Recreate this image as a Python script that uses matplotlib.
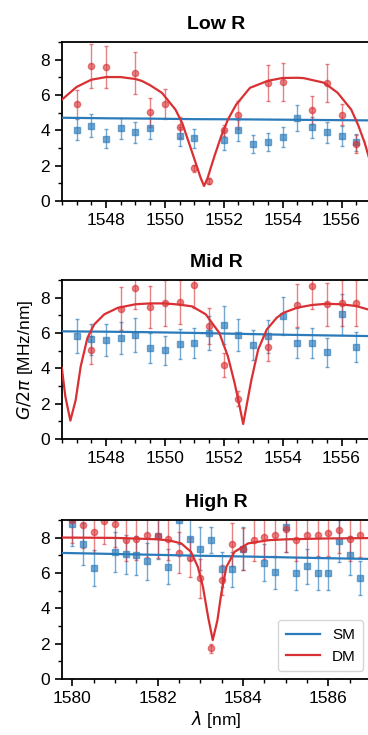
import numpy as np
import matplotlib
matplotlib.use("Agg")
import matplotlib.pyplot as plt
from matplotlib.ticker import MultipleLocator

plt.rcParams["font.family"] = ["Liberation Sans", "DejaVu Sans"]
plt.rcParams["mathtext.fontset"] = "dejavusans"

BLUE = "#2b7bba"
RED = "#d93033"

# ---------------- Low R ----------------
low_x = [1547, 1547.5, 1548, 1548.5, 1549, 1549.5, 1550.5, 1551, 1552, 1552.5,
         1553, 1553.5, 1554, 1554.5, 1555, 1555.5, 1556, 1556.5]
low_sm = [4.03, 4.25, 3.53, 4.12, 3.89, 4.12, 3.65, 3.55, 3.46, 3.99,
          3.21, 3.33, 3.63, 4.69, 4.18, 3.88, 3.67, 3.31]
low_sm_err = [0.6, 0.65, 0.55, 0.6, 0.6, 0.6, 0.55, 0.55, 0.55, 0.6,
              0.5, 0.5, 0.55, 0.75, 0.6, 0.6, 0.55, 0.5]
low_dm_x = [1547, 1547.5, 1548, 1549, 1549.5, 1550, 1550.5, 1551, 1551.5, 1552,
            1552.5, 1553.5, 1554, 1555, 1555.5, 1556, 1556.5]
low_dm = [5.5, 7.66, 7.58, 7.24, 5.01, 5.48, 4.18, 1.85, 1.13, 3.99,
          4.86, 6.67, 6.73, 5.14, 6.69, 4.88, 3.23]
low_dm_err = [0.8, 1.24, 1.2, 1.17, 0.8, 0.85, 0.6, 0.2, 0.15, 0.3,
              0.8, 1.04, 1.07, 0.8, 1.08, 0.6, 0.5]
low_fit_x = [1546.5, 1547, 1547.5, 1548, 1548.5, 1549, 1549.21, 1549.5, 1549.9, 1550.36,
             1550.59, 1550.82, 1551.05, 1551.22, 1551.33, 1551.45, 1551.68, 1551.91, 1552.14, 1552.42,
             1552.89, 1553.5, 1554, 1554.5, 1554.72, 1555.41, 1555.87, 1556.33, 1556.56, 1556.79,
             1557.02]
low_fit = [5.73, 6.45, 6.86, 7.01, 7.01, 6.9, 6.8, 6.55, 6.12, 5.17,
           4.41, 3.28, 2.14, 1.29, 0.85, 1.29, 2.52, 3.65, 4.6, 5.45,
           6.4, 6.8, 6.96, 6.97, 6.95, 6.69, 6.12, 5.17, 4.32, 3.28,
           1.95]
low_sm_fit_x = [1546.5, 1548, 1549.5, 1551, 1552.5, 1554, 1555.5, 1557]
low_sm_fit = [4.71, 4.68, 4.66, 4.63, 4.62, 4.6, 4.58, 4.56]

# ---------------- Mid R ----------------
mid_x = [1547, 1547.5, 1548, 1548.5, 1549, 1549.5, 1550, 1550.5, 1551, 1551.5,
         1552, 1552.5, 1553, 1553.5, 1554, 1554.5, 1555, 1555.5, 1556, 1556.5]
mid_sm = [5.82, 5.63, 5.6, 5.73, 5.88, 5.14, 5.01, 5.39, 5.41, 6.01,
          6.45, 5.86, 5.31, 5.8, 6.96, 5.43, 5.41, 4.9, 7.05, 5.2]
mid_sm_err = [0.95, 0.9, 0.9, 0.9, 0.95, 0.85, 0.8, 0.85, 0.85, 0.95,
              1.06, 0.9, 0.85, 0.95, 1.1, 0.85, 0.85, 0.8, 1.15, 0.85]
mid_dm_x = [1547.5, 1548.5, 1549, 1549.5, 1550, 1550.5, 1551, 1551.5, 1552, 1552.5,
            1553.5, 1554.5, 1555, 1555.5, 1556, 1556.5]
mid_dm = [5.03, 7.37, 8.53, 7.47, 7.71, 7.77, 8.7, 6.39, 4.18, 2.29,
          5.22, 7.56, 8.66, 7.62, 7.69, 7.69]
mid_dm_err = [0.8, 1.2, 1.2, 1.2, 1.3, 1.25, 1.3, 1.0, 0.7, 0.4,
              0.8, 1.2, 1.3, 1.2, 1.3, 1.3]
mid_fit_x = [1546.5, 1546.62, 1546.79, 1546.97, 1547.14, 1547.37, 1547.6, 1547.94, 1548.4, 1549,
             1549.5, 1550, 1550.5, 1550.93, 1551.39, 1551.85, 1552.14, 1552.37, 1552.54, 1552.66,
             1552.77, 1552.94, 1553.17, 1553.46, 1553.8, 1554.03, 1554.5, 1555, 1555.5, 1556,
             1556.5, 1557]
mid_fit = [4.03, 2.4, 1.04, 2.2, 4.1, 5.72, 6.48, 7.05, 7.42, 7.62,
           7.67, 7.67, 7.6, 7.5, 7.05, 6.0, 4.68, 3.16, 1.84, 0.85,
           1.84, 3.35, 5.06, 6.19, 6.86, 7.14, 7.43, 7.58, 7.65, 7.62,
           7.52, 7.28]
mid_sm_fit_x = [1546.5, 1548, 1549.5, 1551, 1552.5, 1554, 1555.5, 1557]
mid_sm_fit = [6.09, 6.07, 6.04, 6.0, 5.95, 5.9, 5.86, 5.82]

# ---------------- High R ----------------
high_x = [1580, 1580.25, 1580.5, 1581, 1581.25, 1581.5, 1581.75, 1582, 1582.25, 1582.5,
          1582.75, 1583, 1583.25, 1583.5, 1583.75, 1584, 1584.5, 1584.75, 1585, 1585.25,
          1585.5, 1585.75, 1586, 1586.25, 1586.5, 1586.75]
high_sm = [8.74, 7.65, 6.27, 7.19, 7.06, 7.0, 6.65, 8.1, 6.35, 9.02,
           7.91, 7.38, 7.85, 6.2, 6.2, 7.38, 6.57, 6.03, 8.61, 5.97,
           6.38, 6.01, 5.97, 7.8, 7.0, 5.72]
high_sm_err = [1.2, 1.2, 1.0, 1.15, 1.1, 1.1, 1.05, 1.3, 1.0, 1.4,
               1.2, 1.2, 0.75, 1.0, 1.0, 1.2, 1.05, 0.95, 1.4, 0.95,
               1.0, 0.95, 0.95, 1.2, 1.1, 0.95]
high_dm_x = [1580, 1580.25, 1580.5, 1580.75, 1581, 1581.25, 1581.5, 1581.75, 1582, 1582.25,
             1582.5, 1582.75, 1583, 1583.25, 1583.5, 1583.75, 1584, 1584.25, 1584.5, 1584.75,
             1585, 1585.25, 1585.5, 1585.75, 1586, 1586.25, 1586.5, 1586.75]
high_dm = [8.98, 8.7, 8.32, 8.93, 8.79, 7.85, 7.93, 8.17, 8.08, 7.93,
           7.14, 6.87, 5.69, 1.73, 5.59, 7.61, 7.35, 7.85, 8.04, 8.17,
           8.47, 7.85, 8.17, 8.13, 8.23, 8.42, 7.89, 8.17]
high_dm_err = [1.3, 1.3, 1.2, 1.3, 1.3, 1.2, 1.2, 1.25, 1.25, 1.2,
               1.15, 1.1, 1.1, 0.25, 0.85, 1.2, 1.2, 1.2, 1.25, 1.25,
               1.3, 1.2, 1.25, 1.25, 1.25, 1.3, 1.2, 1.25]
high_fit_x = [1579.75, 1581, 1582, 1582.3, 1582.55, 1582.78, 1582.94, 1583.06, 1583.18, 1583.29,
              1583.4, 1583.49, 1583.61, 1583.8, 1584.12, 1584.6, 1585, 1586, 1587]
high_fit = [8.0, 7.98, 7.9, 7.82, 7.67, 7.19, 6.34, 5.21, 3.52, 2.2,
            3.33, 4.84, 6.34, 7.19, 7.67, 7.85, 7.9, 7.95, 7.97]
high_sm_fit_x = [1579.75, 1581, 1582, 1583, 1584, 1585, 1586, 1587]
high_sm_fit = [7.13, 7.07, 7.02, 6.97, 6.93, 6.88, 6.83, 6.79]

panels = [
    ("Low R", (1546.5, 1557), [1548, 1550, 1552, 1554, 1556],
     low_x, low_sm, low_sm_err, low_dm_x, low_dm, low_dm_err,
     low_fit_x, low_fit, low_sm_fit_x, low_sm_fit),
    ("Mid R", (1546.5, 1557), [1548, 1550, 1552, 1554, 1556],
     mid_x, mid_sm, mid_sm_err, mid_dm_x, mid_dm, mid_dm_err,
     mid_fit_x, mid_fit, mid_sm_fit_x, mid_sm_fit),
    ("High R", (1579.75, 1587), [1580, 1582, 1584, 1586],
     high_x, high_sm, high_sm_err, high_dm_x, high_dm, high_dm_err,
     high_fit_x, high_fit, high_sm_fit_x, high_sm_fit),
]

fig = plt.figure(figsize=(3.68, 7.35), dpi=100)
bottoms = [0.7265, 0.4027, 0.0762]
axes = [fig.add_axes([0.168, b, 0.84, 0.2165]) for b in bottoms]

for ax, p in zip(axes, panels):
    (title, xlim, xt, sx, sy, se, dx, dy, de, fx, fy, sfx, sfy) = p
    ax.errorbar(sx, sy, yerr=se, fmt="s", color=BLUE, ms=4.2, alpha=0.65,
                elinewidth=1.0, capsize=1.5, capthick=1.0, zorder=2)
    ax.errorbar(dx, dy, yerr=de, fmt="o", color=RED, ms=4.5, alpha=0.6,
                elinewidth=1.0, capsize=1.5, capthick=1.0, zorder=2)
    ax.plot(sfx, sfy, color=BLUE, lw=1.6, label="SM", zorder=3)
    ax.plot(fx, fy, color=RED, lw=1.6, label="DM", zorder=3)
    ax.set_xlim(*xlim)
    ax.set_ylim(0, 9)
    ax.set_xticks(xt)
    ax.set_yticks([0, 2, 4, 6, 8])
    ax.xaxis.set_minor_locator(MultipleLocator(0.5))
    ax.yaxis.set_minor_locator(MultipleLocator(1))
    ax.tick_params(which="major", direction="out", length=5, width=1.2, labelsize=12.5)
    ax.tick_params(which="minor", direction="out", length=3, width=1.0)
    for s in ax.spines.values():
        s.set_linewidth(1.3)
    ax.set_title(title, fontsize=14, fontweight="bold", pad=9)

axes[1].set_ylabel(r"$G/2\pi$ [MHz/nm]", fontsize=12.5)
axes[2].set_xlabel(r"$\lambda$ [nm]", fontsize=12.5, labelpad=2)
axes[2].legend(loc="lower right", fontsize=11, handlelength=2.2,
               borderpad=0.5, labelspacing=0.5, frameon=True)

fig.savefig("out.png", dpi=100)
